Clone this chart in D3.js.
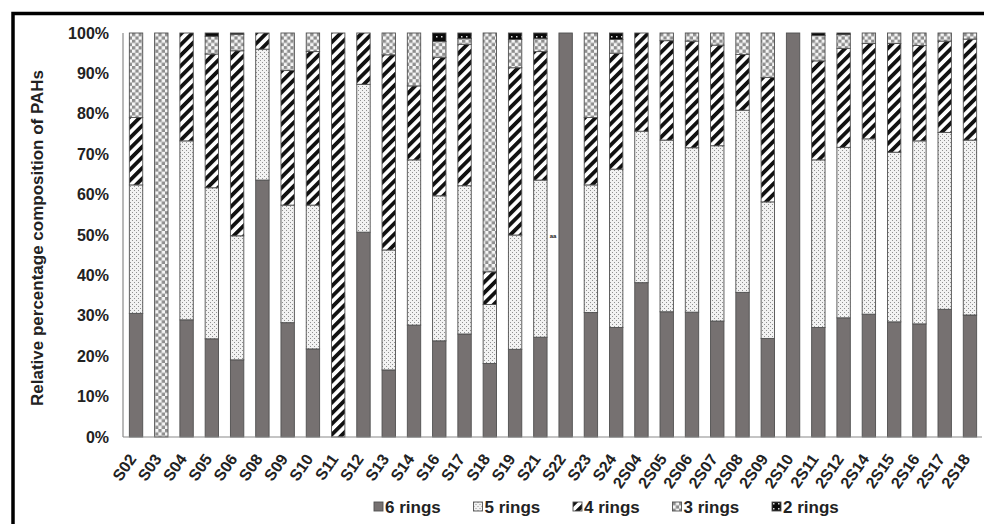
<!DOCTYPE html>
<html lang="en">
<head>
<meta charset="UTF-8">
<title>PAHs ring composition</title>
<script src="https://cdn.jsdelivr.net/npm/d3@7"></script>
<style>
  body { margin: 0; background: #fff; }
  svg { display: block; font-family: "Liberation Sans", Arial, sans-serif; }
</style>
</head>
<body>
<svg id="chart" width="984" height="524"></svg>
<script>
// sample sites
const sites = ["S02","S03","S04","S05","S06","S08","S09","S10","S11","S12","S13","S14","S16","S17","S18","S19","S21","S22","S23","S24",
  "2S04","2S05","2S06","2S07","2S08","2S09","2S10","2S11","2S12","2S14","2S15","2S16","2S17","2S18"];

// % of each ring group
const rings6 = [30.6,0,29.0,24.3,19.1,63.6,28.3,21.8,0,50.7,16.6,27.7,23.8,25.5,18.2,21.7,24.7,100,30.8,27.1,
  38.2,31.0,30.9,28.7,35.8,24.4,100,27.1,29.5,30.4,28.5,28.0,31.6,30.2];
const rings5 = [31.8,0,44.3,37.4,30.7,32.4,29.1,35.6,0,36.6,29.7,40.9,35.9,36.7,14.6,28.3,38.9,0,31.6,39.2,
  37.5,42.5,40.7,43.4,45.1,33.8,0,41.5,42.2,43.4,42.0,45.3,43.8,43.3];
const rings4 = [16.7,0,26.7,33.1,45.8,4.0,33.3,38.0,100,12.7,48.3,18.3,34.3,35.0,8.1,41.4,31.8,0,16.7,28.7,
  24.3,24.6,26.4,24.9,13.8,30.8,0,24.5,24.5,23.6,26.9,23.6,22.6,25.0];
const rings3 = [20.9,100,0,4.4,4.1,0,9.3,4.6,0,0,5.4,13.1,3.9,1.4,59.1,7.0,3.2,0,20.9,3.4,
  0,1.9,2.0,3.0,5.3,11.0,0,6.3,3.4,2.6,2.6,3.1,2.0,1.5];
const rings2 = [0,0,0,0.8,0.3,0,0,0,0,0,0,0,2.1,1.4,0,1.6,1.4,0,0,1.6,
  0,0,0,0,0,0,0,0.6,0.4,0,0,0,0,0];

const seriesNames = ["6 rings","5 rings","4 rings","3 rings","2 rings"];
const yTicks = [0,10,20,30,40,50,60,70,80,90,100];

const rows = sites.map((s, i) => ({
  site: s,
  "6 rings": rings6[i], "5 rings": rings5[i], "4 rings": rings4[i],
  "3 rings": rings3[i], "2 rings": rings2[i]
}));

const svg = d3.select("#chart");
const defs = svg.append("defs");

// fill patterns, like the excel ones
const p5 = defs.append("pattern").attr("id","p5").attr("patternUnits","userSpaceOnUse").attr("width",4).attr("height",4);
p5.append("rect").attr("width",4).attr("height",4).attr("fill","#f2f2f2");
p5.append("rect").attr("x",0).attr("y",0).attr("width",1).attr("height",1).attr("fill","#909090");
p5.append("rect").attr("x",2).attr("y",2).attr("width",1).attr("height",1).attr("fill","#909090");

const p4 = defs.append("pattern").attr("id","p4").attr("patternUnits","userSpaceOnUse")
  .attr("width",7.5).attr("height",7.5).attr("patternTransform","rotate(45)");
p4.append("rect").attr("width",7.5).attr("height",7.5).attr("fill","#fff");
p4.append("rect").attr("width",3.8).attr("height",7.5).attr("fill","#111");

const p3 = defs.append("pattern").attr("id","p3").attr("patternUnits","userSpaceOnUse").attr("width",6.6).attr("height",6.6);
p3.append("rect").attr("width",6.6).attr("height",6.6).attr("fill","#f6f6f6");
p3.append("rect").attr("width",3.3).attr("height",3.3).attr("fill","#8e8e8e");
p3.append("rect").attr("x",3.3).attr("y",3.3).attr("width",3.3).attr("height",3.3).attr("fill","#8e8e8e");

const p2 = defs.append("pattern").attr("id","p2").attr("patternUnits","userSpaceOnUse").attr("width",5).attr("height",5);
p2.append("rect").attr("width",5).attr("height",5).attr("fill","#0a0a0a");
p2.append("rect").attr("x",1).attr("y",1).attr("width",1.5).attr("height",1.5).attr("fill","#ddd");

const fills = {"6 rings":"#767171","5 rings":"url(#p5)","4 rings":"url(#p4)","3 rings":"url(#p3)","2 rings":"url(#p2)"};

// outer frame
svg.append("rect").attr("x",13).attr("y",13.5).attr("width",1000).attr("height",600)
  .attr("fill","none").attr("stroke","#000").attr("stroke-width",3.5);

const x = d3.scaleBand().domain(sites).range([123.4, 982.6]).paddingInner(0.47).paddingOuter(0.235);
const y = d3.scaleLinear().domain([0,100]).range([437, 33]);

const stack = d3.stack().keys(seriesNames)(rows);

svg.append("g").selectAll("g")
  .data(stack)
  .join("g")
  .attr("fill", d => fills[d.key])
  .selectAll("rect")
  .data(d => d.filter(p => p[1] - p[0] > 0))
  .join("rect")
  .attr("x", d => x(d.data.site))
  .attr("y", d => y(d[1]))
  .attr("width", x.bandwidth())
  .attr("height", d => y(d[0]) - y(d[1]))
  .attr("stroke","#505050")
  .attr("stroke-width",0.9);

// axes lines
svg.append("line").attr("x1",123).attr("x2",123).attr("y1",y(100)).attr("y2",y(0)).attr("stroke","#8a8a8a").attr("stroke-width",1.2);
svg.append("line").attr("x1",123).attr("x2",982).attr("y1",y(0)).attr("y2",y(0)).attr("stroke","#8a8a8a").attr("stroke-width",1.2);

// y ticks
const yAxis = svg.append("g").attr("transform","translate(123,0)")
  .call(d3.axisLeft(y).tickValues(yTicks).tickFormat(d => d + "%").tickSize(0).tickPadding(14));
yAxis.select(".domain").remove();
yAxis.selectAll("text").attr("font-size","16px").attr("font-weight","bold").attr("fill","#222")
  .attr("font-family","Liberation Sans, Arial, sans-serif");

// x labels
svg.append("g").selectAll("text")
  .data(sites)
  .join("text")
  .attr("transform", d => `translate(${x(d) + x.bandwidth()/2 + 1},459) rotate(-55)`)
  .attr("text-anchor","end")
  .attr("font-size","16px")
  .attr("font-weight","bold")
  .attr("fill","#222")
  .text(d => d);

// y title
svg.append("text")
  .attr("transform","translate(43,238) rotate(-90)")
  .attr("text-anchor","middle")
  .attr("font-size","17px")
  .attr("font-weight","bold")
  .attr("fill","#222")
  .text("Relative percentage composition of PAHs");

// small mark next to S22
svg.append("text").attr("x",553).attr("y",238).attr("text-anchor","middle")
  .attr("font-size","6px").attr("font-weight","bold").attr("fill","#222").text("aa");

// legend
const legend = svg.append("g").selectAll("g")
  .data(seriesNames)
  .join("g")
  .attr("transform", (d, i) => `translate(${374 + i * 99.5},502)`);
legend.append("rect").attr("width",9).attr("height",9).attr("fill", d => fills[d])
  .attr("stroke","#505050").attr("stroke-width",0.9);
legend.append("text").attr("x",11).attr("y",10.5)
  .attr("font-size","17px").attr("font-weight","bold").attr("fill","#222")
  .text(d => d);
</script>
</body>
</html>
